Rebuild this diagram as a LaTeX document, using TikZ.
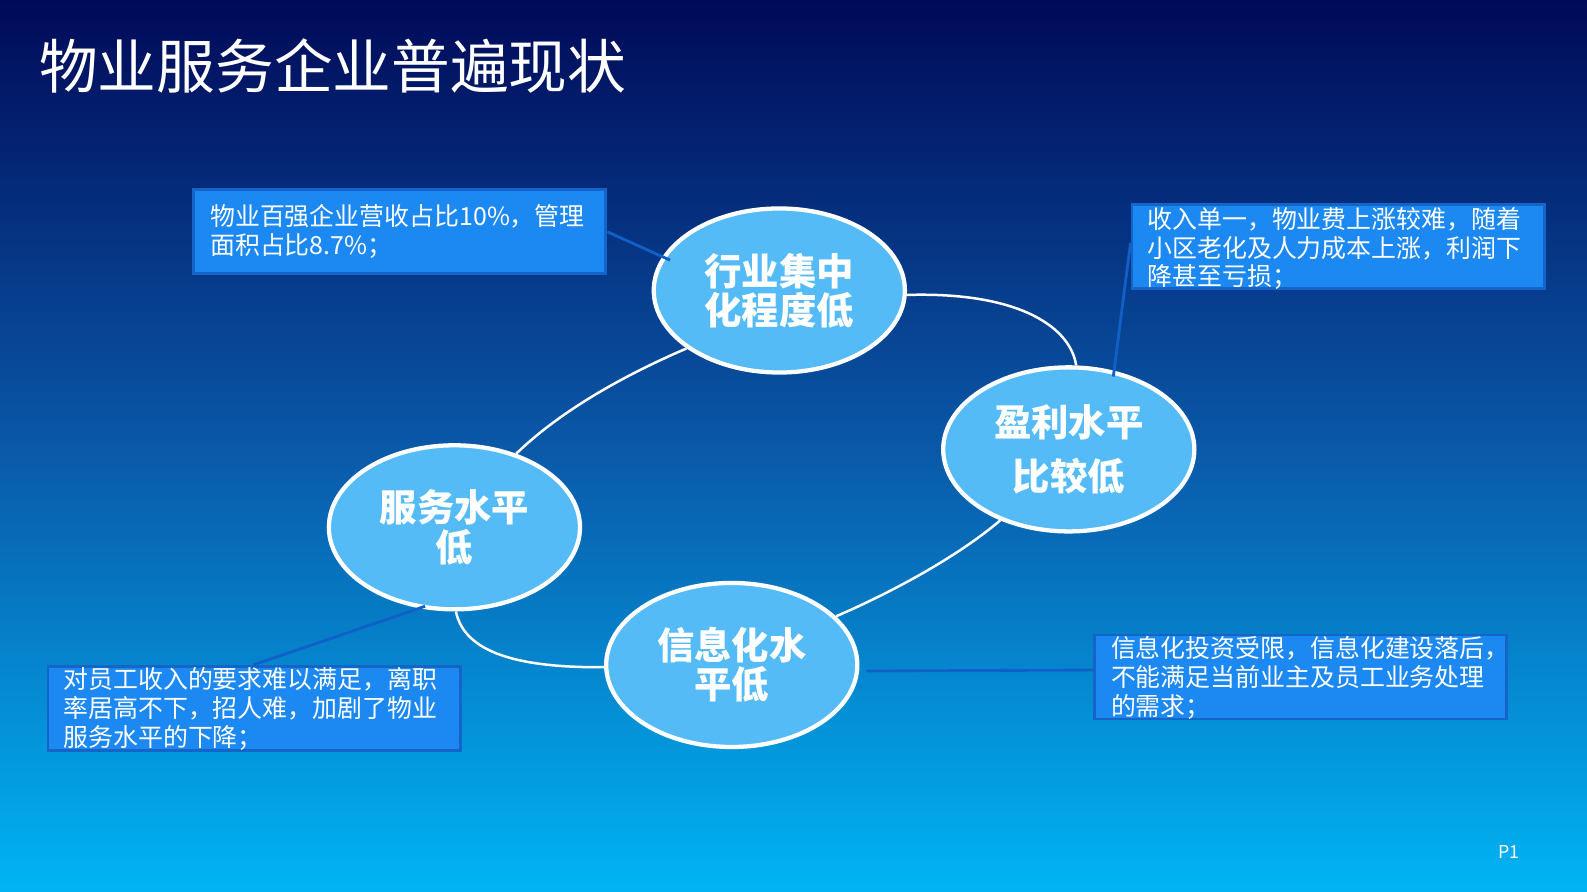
\documentclass[tikz,border=0pt]{standalone}
\usepackage{fontspec}
\newfontfamily\cjk{Noto Sans CJK SC}
\usetikzlibrary{shapes.geometric}
\begin{document}
\begin{tikzpicture}[x=0.01cm,y=-0.01cm,
  oval/.style={ellipse,draw=white,line width=1.2pt,fill=ellfill,minimum width=2.48cm,minimum height=1.62cm,inner sep=0pt,text=white,font=\cjk\bfseries\fontsize{10.5pt}{11pt}\selectfont,align=center},
  infobox/.style={draw=boxedge,line width=0.8pt,fill=boxfill,minimum width=4.07cm,minimum height=0.83cm,inner sep=0pt,anchor=north west},
  infotext/.style={anchor=north west,text=white,font=\cjk\fontsize{7pt}{8.1pt}\selectfont,align=left,inner sep=0pt},
  link/.style={white,line width=0.7pt},
  ptr/.style={draw=ptrcol,line width=0.8pt}]
\definecolor{ellfill}{HTML}{55BBF6}
\definecolor{boxfill}{HTML}{1C88F2}
\definecolor{boxedge}{HTML}{1565C8}
\definecolor{ptrcol}{HTML}{1060C8}
\definecolor{bgtop}{HTML}{000A58}
\definecolor{bgmid}{HTML}{0A58A8}
\definecolor{bgbot}{HTML}{00B4F4}
\shade[top color=bgtop,bottom color=bgbot,middle color=bgmid] (0,0) rectangle (1568,881);
\useasboundingbox (0,0) rectangle (1568,881);
\node[anchor=west,text=white,font=\cjk\fontsize{16.5pt}{18pt}\selectfont,inner sep=0pt] (title) at (38,65) {物业服务企业普遍现状};
\node[anchor=east,text=white,font=\cjk\fontsize{5pt}{6pt}\selectfont,inner sep=0pt] (pg) at (1502,842) {P1};

\node[oval] (A) at (770,287) {行业集中\\化程度低};
\node[oval,font=\cjk\bfseries\fontsize{10.5pt}{15pt}\selectfont] (B) at (1056,444) {盈利水平\\比较低};
\node[oval] (C) at (449,521) {服务水平\\低};
\node[oval] (D) at (723,657) {信息化水\\平低};

\draw[link] (A.-2) .. controls (1010,288) and (1058,325) .. (B.85);
\draw[link] (B.-134) .. controls (940,555) and (870,590) .. (D.25);
\draw[link] (D.181) .. controls (500,660) and (458,640) .. (C.-89);
\draw[link] (C.50) .. controls (560,400) and (630,365) .. (A.-148);

\node[infobox] (b1) at (190,186) {};
\node[infotext] (t1) at (207,201) {物业百强企业营收占比10\%，管理\\面积占比8.7\%；};
\node[infobox] (b2) at (1117,201) {};
\node[infotext] (t2) at (1133,204) {收入单一，物业费上涨较难，随着\\小区老化及人力成本上涨，利润下\\降甚至亏损；};
\node[infobox] (b3) at (1080,626) {};
\node[infotext] (t3) at (1097,628) {信息化投资受限，信息化建设落后，\\不能满足当前业主及员工业务处理\\的需求；};
\node[infobox] (b4) at (46,657) {};
\node[infotext] (t4) at (62,659) {对员工收入的要求难以满足，离职\\率居高不下，招人难，加剧了物业\\服务水平的下降；};

\coordinate (p1) at (662,257);
\coordinate (p2) at (1100,372);
\coordinate (p3) at (856,663);
\coordinate (p4) at (420,599);
\draw[ptr] (b1.east |- 0,229) -- (p1);
\draw[ptr] (b2.west |- 0,240) -- (p2);
\draw[ptr] (b3.west |- 0,662) -- (p3);
\draw[ptr] (b4.north -| 250,0) -- (p4);
\end{tikzpicture}
\end{document}
